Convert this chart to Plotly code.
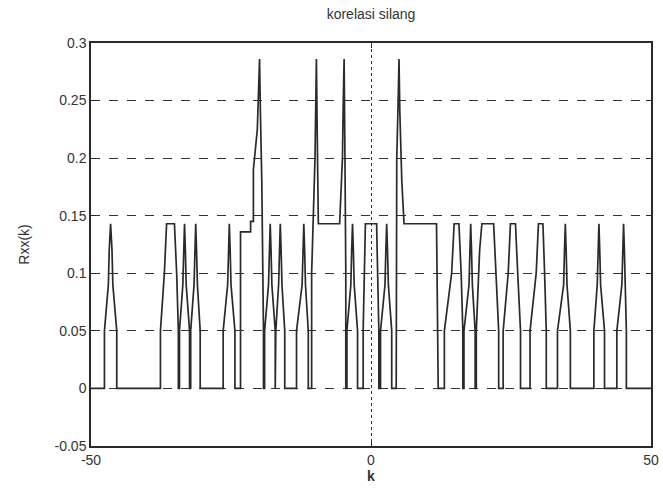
import plotly.graph_objects as go

# Cross-correlation curve vertices (k, Rxx(k))
k = [-50,
     -47.6, -47.6, -46.9, -46.75, -46.5, -46.25, -46.1, -45.4, -45.4,
     -37.6, -37.6, -36.9, -36.5, -35.1, -34.7, -34.4, -34.4,
     -34.2, -34.2, -33.6, -33.45, -33.3, -33.15, -33.0, -32.4, -32.4,
     -32.2, -32.2, -31.6, -31.45, -31.3, -31.15, -31.0, -30.5, -30.5,
     -26.4, -26.4, -25.6, -25.45, -25.3, -25.15, -25.0, -24.3, -24.3,
     -23.3, -23.3, -21.5, -21.5, -21.0, -21.0, -20.3, -20.05, -19.9, -19.75, -19.5, -19.2, -19.2,
     -19.0, -19.0, -18.3, -18.15, -18.0, -17.85, -17.7, -17.1, -17.1,
     -17.0, -17.0, -16.5, -16.35, -16.2, -16.05, -15.9, -15.4, -15.4,
     -13.3, -13.3, -12.3, -12.15, -12.0, -11.85, -11.7, -11.2, -11.2,
     -10.6, -10.6, -10.0, -9.9, -9.75, -9.6, -9.4, -5.6, -5.1, -4.95, -4.8, -4.65, -4.5, -4.5,
     -4.3, -4.3, -3.6, -3.45, -3.3, -3.15, -3.0, -2.4, -2.4,
     -1.4, -1.4, -1.1, -1.0, 1.0, 1.1, 1.4, 1.4,
     1.7, 1.7, 2.5, 2.65, 2.8, 2.95, 3.1, 3.7, 3.7,
     4.5, 4.6, 4.85, 5.0, 5.15, 5.5, 5.9, 11.7, 11.9, 12.0,
     13.1, 13.1, 14.4, 14.85, 15.7, 16.1, 16.4, 16.4,
     16.6, 16.6, 17.5, 17.65, 17.8, 17.95, 18.1, 18.6, 18.6,
     18.8, 18.8, 19.4, 19.8, 21.9, 22.3, 22.8, 22.8,
     23.6, 23.6, 24.5, 24.9, 25.8, 26.2, 26.7, 26.7,
     28.4, 28.4, 29.5, 29.9, 30.7, 31.0, 31.3, 31.3,
     33.3, 33.3, 34.4, 34.55, 34.7, 34.85, 35.0, 35.6, 35.6,
     39.8, 39.8, 40.4, 40.55, 40.7, 40.85, 41.0, 41.7, 41.7,
     43.9, 43.9, 44.8, 44.95, 45.1, 45.25, 45.4, 45.6, 45.6,
     50]
rxx = [0,
       0, 0.05, 0.09, 0.12, 0.143, 0.12, 0.09, 0.05, 0,
       0, 0.05, 0.1, 0.143, 0.143, 0.1, 0.05, 0,
       0, 0.05, 0.09, 0.12, 0.143, 0.12, 0.09, 0.05, 0,
       0, 0.05, 0.09, 0.12, 0.143, 0.12, 0.09, 0.05, 0,
       0, 0.05, 0.09, 0.12, 0.143, 0.12, 0.09, 0.05, 0,
       0, 0.136, 0.136, 0.145, 0.145, 0.19, 0.225, 0.255, 0.286, 0.24, 0.18, 0.05, 0,
       0, 0.05, 0.09, 0.12, 0.143, 0.12, 0.09, 0.05, 0,
       0, 0.05, 0.09, 0.12, 0.143, 0.12, 0.09, 0.05, 0,
       0, 0.05, 0.09, 0.12, 0.143, 0.12, 0.09, 0.05, 0,
       0, 0.1, 0.2, 0.25, 0.286, 0.22, 0.143, 0.143, 0.2, 0.25, 0.286, 0.2, 0.1, 0,
       0, 0.05, 0.09, 0.12, 0.143, 0.12, 0.09, 0.05, 0,
       0, 0.05, 0.12, 0.143, 0.143, 0.12, 0.05, 0,
       0, 0.05, 0.09, 0.12, 0.143, 0.12, 0.09, 0.05, 0,
       0, 0.2, 0.25, 0.286, 0.24, 0.18, 0.143, 0.143, 0.05, 0,
       0, 0.05, 0.1, 0.143, 0.143, 0.1, 0.05, 0,
       0, 0.05, 0.09, 0.12, 0.143, 0.12, 0.09, 0.05, 0,
       0, 0.05, 0.12, 0.143, 0.143, 0.1, 0.05, 0,
       0, 0.05, 0.1, 0.143, 0.143, 0.1, 0.05, 0,
       0, 0.05, 0.1, 0.143, 0.143, 0.1, 0.05, 0,
       0, 0.05, 0.09, 0.12, 0.143, 0.12, 0.09, 0.05, 0,
       0, 0.05, 0.09, 0.12, 0.143, 0.12, 0.09, 0.05, 0,
       0, 0.05, 0.09, 0.12, 0.143, 0.12, 0.09, 0.05, 0,
       0]

x_ticks = [-50, 0, 50]
x_tick_labels = ["-50", "0", "50"]
y_ticks = [-0.05, 0, 0.05, 0.1, 0.15, 0.2, 0.25, 0.3]
y_tick_labels = ["-0.05", "0", "0.05", "0.1", "0.15", "0.2", "0.25", "0.3"]

font_family = "Liberation Sans, Arial, sans-serif"
ink = "#2a2a2a"

fig = go.Figure(go.Scatter(x=k, y=rxx, mode="lines",
                           line=dict(color=ink, width=1.7),
                           hoverinfo="x+y", showlegend=False))

fig.update_layout(
    width=663, height=497,
    paper_bgcolor="white", plot_bgcolor="white",
    margin=dict(l=91, r=12, t=43, b=51, autoexpand=False),
    font=dict(family=font_family, size=14, color="#333333"),
    title=dict(text="korelasi silang", x=0.5, xanchor="center",
               xref="paper", y=0.972, yref="container", yanchor="middle",
               font=dict(size=14, color="#333333")),
)
fig.update_xaxes(
    range=[-50, 50], tickvals=x_ticks, ticktext=x_tick_labels,
    showgrid=True, gridcolor="#333333", griddash="dot", gridwidth=1,
    zeroline=False, showline=True, linecolor=ink, linewidth=1.5,
    mirror="ticks", ticks="inside", ticklen=5, tickcolor=ink,
    automargin=False, ticklabeloverflow="allow",
    tickfont=dict(size=14),
    title=dict(text="<b>k</b>", standoff=0, font=dict(size=14)),
)
fig.update_yaxes(
    range=[-0.05, 0.3], tickvals=y_ticks, ticktext=y_tick_labels,
    showgrid=True, gridcolor="#333333", griddash="dash", gridwidth=1,
    zeroline=False, showline=True, linecolor=ink, linewidth=1.5,
    mirror="ticks", ticks="inside", ticklen=5, tickcolor=ink,
    automargin=False, tickfont=dict(size=14),
    title=dict(text="Rxx(k)", standoff=22, font=dict(size=14)),
)

fig.write_html("out.html",
               config={"displayModeBar": False},
               post_script="document.body.style.margin='0';document.body.style.padding='0';")
